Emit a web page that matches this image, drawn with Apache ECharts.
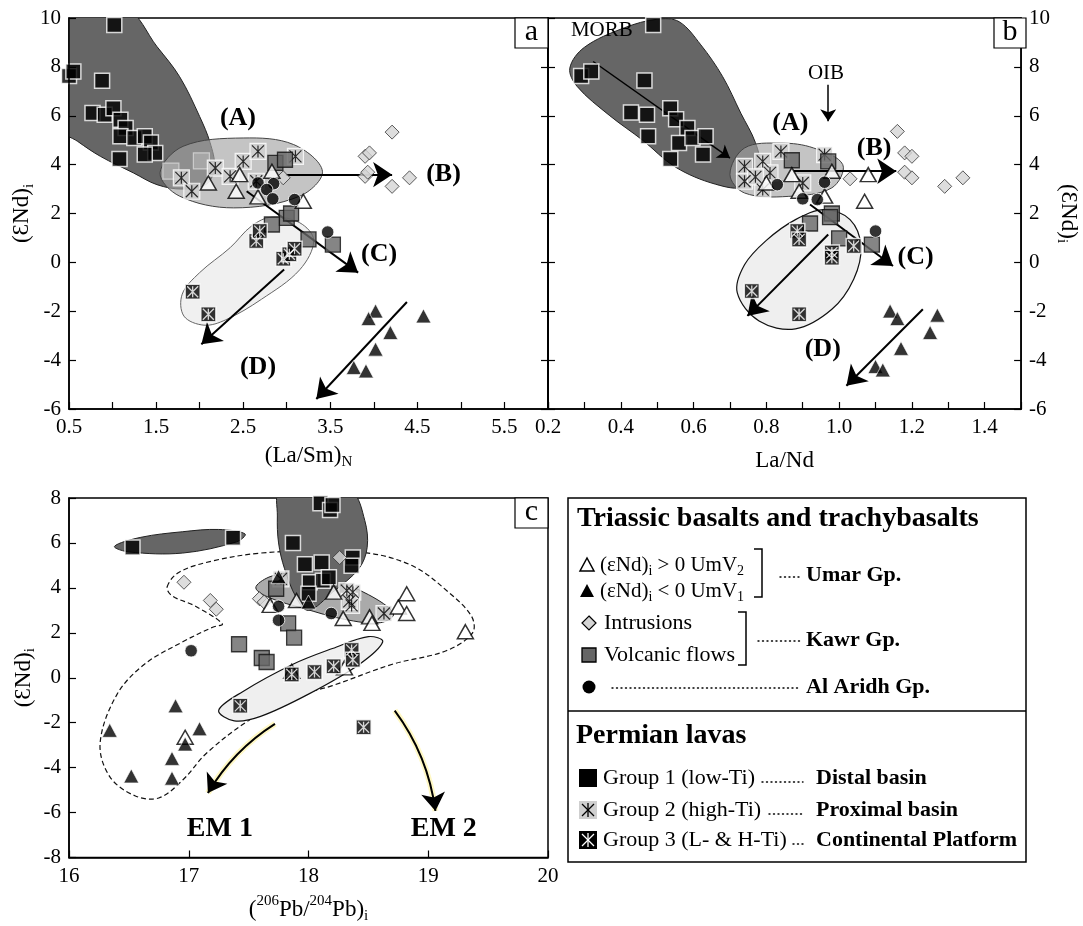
<!DOCTYPE html>
<html><head><meta charset="utf-8">
<script src="https://cdn.jsdelivr.net/npm/echarts@6/dist/echarts.min.js"></script>
<style>html,body{margin:0;padding:0;background:#fff}#c{width:1083px;height:926px}</style>
</head><body><div id="c"></div><script>
// ---------- DATA ----------
// Panel a : (La/Sm)N vs (eNd)i
const aG1 = [[1.02,9.71],[0.50,7.63],[0.55,7.81],[0.88,7.43],[0.77,6.11],[0.91,6.04],[1.01,6.31],[1.09,5.84],[1.15,5.5],[1.09,5.16],[1.25,5.09],[1.37,5.16],[1.44,4.91],[1.49,4.48],[1.37,4.41],[1.08,4.23]];
const aG2 = [[1.79,3.46],[1.91,2.91],[2.18,3.86],[2.35,3.52],[2.5,4.13],[2.67,4.54],[3.1,4.34],[2.65,3.32]];
const aG2faint = [[1.67,3.73],[2.02,4.15]];
const aG3 = [[2.65,0.87],[2.69,1.28],[2.96,0.15],[3.03,0.33],[3.09,0.56],[1.92,-1.2],[2.1,-2.12]];
const aTriOpen = [[2.1,3.25],[2.46,3.59],[2.42,2.91],[2.67,2.68],[2.83,3.73],[3.19,2.5]];
const aTriBlack = [[4.02,-1.99],[3.94,-2.3],[4.57,-2.19],[4.19,-2.87],[4.02,-3.55],[3.77,-4.3],[3.91,-4.44]];
const aCircle = [[2.67,3.25],[2.85,3.22],[2.77,2.98],[2.84,2.6],[3.09,2.57],[3.47,1.24]];
const aKawr = [[2.87,4.07],[2.98,4.2],[3.0,1.82],[3.05,2.0],[2.83,1.55],[3.25,0.94],[3.53,0.73]];
const aDiamond = [[2.96,3.46],[3.9,4.34],[3.95,4.48],[3.9,3.52],[3.93,3.69],[4.21,5.33],[4.21,3.11],[4.41,3.46]];
const aArrows = [[2.99,3.59,4.21,3.59],[2.54,2.91,3.82,-0.42],[2.97,-0.29,2.02,-3.35],[4.38,-1.62,3.34,-5.59]];
const aLabels = [['(A)',2.44,5.9],['(B)',4.8,3.59],['(C)',4.06,0.33],['(D)',2.67,-4.29]];
const aDark = [[0.4,10.4],[1.15,10.4],[1.51,8.83],[1.77,7.6],[2.0,5.97],[2.12,4.9],[2.17,3.9],[2.08,3.2],[1.8,3.0],[1.51,3.18],[1.24,3.66],[0.86,4.34],[0.6,4.95],[0.4,5.5]];
const aEllA = [[1.545,3.66],[1.81,4.75],[2.5,5.09],[3.08,4.82],[3.41,3.73],[3.15,2.71],[2.39,2.23],[1.77,2.71]];
const aEllG3 = [[2.83,1.85],[3.15,1.62],[3.31,0.9],[3.15,-0.3],[2.71,-1.51],[2.3,-2.35],[2.05,-2.57],[1.82,-2.2],[1.8,-1.3],[2.0,-0.42],[2.35,0.6],[2.6,1.5]];

// Panel b : La/Nd vs (eNd)i
const bG1 = [[0.489,9.71],[0.291,7.63],[0.319,7.81],[0.465,7.44],[0.428,6.13],[0.472,6.04],[0.536,6.31],[0.552,5.86],[0.583,5.5],[0.475,5.16],[0.56,4.88],[0.597,5.09],[0.633,5.16],[0.626,4.41],[0.536,4.23]];
const bG2 = [[0.74,3.93],[0.79,4.13],[0.84,4.54],[0.74,3.32],[0.81,3.66],[0.79,2.98],[0.9,3.25],[0.96,4.41],[0.77,3.5]];
const bG3 = [[0.885,1.28],[0.89,0.94],[0.98,0.4],[1.04,0.67],[0.98,0.19],[0.76,-1.17],[0.89,-2.12]];
const bTriOpen = [[0.8,3.25],[0.87,3.59],[0.89,2.91],[0.96,2.71],[0.98,3.73],[1.08,3.59],[1.07,2.5]];
const bTriBlack = [[1.14,-1.99],[1.16,-2.3],[1.27,-2.16],[1.25,-2.87],[1.17,-3.52],[1.10,-4.26],[1.12,-4.4]];
const bCircle = [[0.83,3.18],[0.96,3.28],[0.9,2.6],[0.94,2.57],[1.1,1.28]];
const bKawr = [[0.87,4.18],[0.97,4.13],[0.98,2.0],[0.975,1.85],[0.92,1.59],[1.0,0.98],[1.09,0.73]];
const bDiamond = [[1.03,3.42],[1.16,5.36],[1.18,4.48],[1.2,4.34],[1.18,3.69],[1.2,3.46],[1.29,3.11],[1.34,3.46]];
const bArrows = [[0.875,3.73,1.157,3.73],[0.92,2.37,1.148,-0.15],[0.97,1.14,0.748,-2.19],[1.23,-1.92,1.02,-5.05]];
const bThinArrows = [[0.324,8.22,0.70,4.27],[0.97,7.27,0.97,5.77]];
const bLabels = [['(A)',0.866,5.7],['(B)',1.096,4.68],['(C)',1.21,0.19],['(D)',0.955,-3.55]];
const bRefLabels = [['MORB',0.348,9.48],['OIB',0.964,7.74]];
const bDark = [[0.5,9.95],[0.56,9.85],[0.62,8.9],[0.68,7.6],[0.73,6.1],[0.77,4.9],[0.78,4.0],[0.74,3.1],[0.66,3.2],[0.55,3.9],[0.46,5.0],[0.37,6.0],[0.28,7.2],[0.26,7.95],[0.3,8.8],[0.41,9.6]];
const bEllA = [[0.70,3.6],[0.74,4.68],[0.84,4.88],[0.93,4.68],[1.01,4.0],[0.98,3.05],[0.86,2.7],[0.74,2.84]];
const bEllG3 = [[0.96,2.16],[1.03,1.75],[1.06,0.66],[1.04,-0.69],[0.98,-1.92],[0.88,-2.72],[0.78,-2.4],[0.72,-1.24],[0.74,-0.1],[0.8,0.9],[0.88,1.75]];

// Panel c : (206Pb/204Pb)i vs (eNd)i
const cG1 = [[16.53,5.8],[17.37,6.23],[18.1,7.77],[18.18,7.47],[18.2,7.69],[17.87,6.0],[17.97,5.05],[18.11,5.13],[18.37,5.35],[18.36,4.98],[18.01,4.25],[18.12,4.32],[18.17,4.47],[18.0,3.74]];
const cG2 = [[18.37,3.81],[18.36,3.22],[18.63,2.86],[17.77,4.4],[18.32,3.88],[18.34,3.4]];
const cG3 = [[17.43,-1.25],[17.86,0.15],[18.05,0.26],[18.21,0.51],[18.36,1.24],[18.37,0.8],[18.46,-2.2]];
const cTriOpen = [[17.9,3.44],[17.68,3.22],[18.21,3.81],[18.29,2.64],[18.51,2.71],[18.53,2.42],[18.75,3.15],[18.82,3.74],[18.82,2.86],[17.86,0.29],[18.3,0.44],[19.31,2.05],[16.97,-2.65]];
const cTriBlack = [[17.75,4.5],[18.0,3.37],[16.34,-2.34],[16.89,-1.25],[17.09,-2.27],[16.97,-2.95],[16.86,-3.59],[16.52,-4.37],[16.86,-4.47]];
const cCircle = [[17.75,3.18],[17.75,2.56],[18.19,2.86],[17.02,1.2]];
const cKawr = [[17.73,3.96],[17.83,2.42],[17.88,1.79],[17.42,1.49],[17.61,0.88],[17.65,0.7]];
const cDiamond = [[16.96,4.25],[17.18,3.44],[17.23,3.05],[17.59,3.52],[17.63,3.37],[18.26,5.35]];
const cEmArrows = [[17.72,-2.05,17.16,-5.13],[18.72,-1.46,19.06,-5.93]];
const cLabels = [['EM 1',17.26,-6.74],['EM 2',19.13,-6.74]];
const cSmall = [[16.38,5.85],[16.6,6.25],[16.95,6.5],[17.25,6.6],[17.47,6.4],[17.4,6.05],[16.95,5.55],[16.5,5.6]];
const cDarkBlob = [[17.76,8.4],[18.05,8.5],[18.36,8.3],[18.47,7.0],[18.49,5.8],[18.42,4.85],[18.2,3.8],[18.0,3.0],[17.9,3.55],[17.8,4.85],[17.75,6.0],[17.74,7.2]];
const cGrey = [[17.56,4.0],[17.67,4.48],[17.85,4.65],[18.15,4.45],[18.5,3.7],[18.71,2.85],[18.6,2.45],[18.3,2.6],[17.95,3.1],[17.68,3.55]];
const cLight = [[17.25,-1.45],[17.45,-0.62],[17.87,0.6],[18.2,1.3],[18.5,1.83],[18.62,1.6],[18.42,0.58],[18.0,-0.73],[17.6,-1.72],[17.38,-1.92]];
const cDashed = [[16.82,4.05],[16.92,4.7],[17.2,5.2],[17.6,5.55],[18.0,5.62],[18.5,5.55],[18.88,4.95],[19.16,3.85],[19.36,2.75],[19.37,2.0],[19.15,1.2],[18.7,0.6],[18.2,-0.35],[17.85,-0.9],[17.5,-1.9],[17.15,-3.35],[16.95,-4.55],[16.75,-5.35],[16.55,-5.25],[16.34,-4.4],[16.26,-2.9],[16.4,-0.75],[16.63,0.6],[16.95,1.6],[17.2,2.25],[17.28,2.4],[17.05,3.2],[16.86,3.65]];

// ---------- STYLE ----------
const FONT = "'Liberation Serif','Times New Roman',serif";
const STAR = 'path://M0,0L10,10M10,0L0,10M5,0L5,10';
const S = {
  g1:   {symbol:'rect', symbolSize:15, itemStyle:{color:'#000', borderColor:'#fff', borderWidth:1.5}},
  g2:   {symbol:'rect', symbolSize:16, itemStyle:{color:'#d2d2d2', borderColor:'#fff', borderWidth:1.2}},
  g2f:  {symbol:'rect', symbolSize:16, itemStyle:{color:'#adadad', borderColor:'#d8d8d8', borderWidth:1.2}},
  star: {symbol:STAR, symbolSize:12, itemStyle:{color:'rgba(0,0,0,0)', borderColor:'#000', borderWidth:1.2}},
  g3:   {symbol:'rect', symbolSize:15, itemStyle:{color:'#000', borderColor:'#fff', borderWidth:1.5}},
  wstar:{symbol:STAR, symbolSize:11, itemStyle:{color:'rgba(0,0,0,0)', borderColor:'#fff', borderWidth:1.3}},
  tri:  {symbol:'triangle', symbolSize:[16,14], itemStyle:{color:'#fff', borderColor:'#000', borderWidth:1.5}},
  triB: {symbol:'triangle', symbolSize:[15,14], itemStyle:{color:'#000', borderColor:'#fff', borderWidth:0.8}},
  cir:  {symbol:'circle', symbolSize:12.5, itemStyle:{color:'#000', borderColor:'#fff', borderWidth:1}},
  kaw:  {symbol:'rect', symbolSize:15, itemStyle:{color:'#666', borderColor:'#111', borderWidth:1.3}},
  dia:  {symbol:'diamond', symbolSize:14, itemStyle:{color:'#d4d4d4', borderColor:'#333', borderWidth:1}}
};
const ST_DARK = {fill:'#666', stroke:'#222', lineWidth:1};
const ST_ELLA = {fill:'rgba(165,165,165,0.65)', stroke:'#444', lineWidth:1};
const ST_G3A = {fill:'#f0f0f0', stroke:'#666', lineWidth:1};
const ST_G3 = {fill:'#efefef', stroke:'#111', lineWidth:1.2};
const ST_GREY = {fill:'#aaa', stroke:'#222', lineWidth:1};
const ST_DASH = {fill:'none', stroke:'#111', lineWidth:1.2, lineDash:[5,3]};

function pts(data, xi, yi, st, z) {
  return Object.assign({type:'scatter', xAxisIndex:xi, yAxisIndex:yi, data:data, silent:true, z:z||3}, JSON.parse(JSON.stringify(st)));
}
function env(list, styles, xi, yi) {
  return {type:'custom', xAxisIndex:xi, yAxisIndex:yi, silent:true, z:1,
    data: list.map(e => [e[0][0], e[0][1]]),
    renderItem: function (params, api) {
      const i = params.dataIndex;
      const p = list[i].map(q => api.coord(q));
      const cs = params.coordSys;
      return {type:'group', children:[{type:'polygon', shape:{points:p, smooth:0.35}, style:Object.assign({}, styles[i])}],
        clipPath:{type:'rect', shape:{x:cs.x, y:cs.y, width:cs.width, height:cs.height}}};
    }};
}
function arrows(list, xi, yi, w, size, curves) {
  return {type:'lines', coordinateSystem:'cartesian2d', xAxisIndex:xi, yAxisIndex:yi, silent:true, z:2,
    symbol:['none','arrow'], symbolSize:size, lineStyle:{color:'#000', width:w, opacity:1},
    data: list.map((a,i) => {
      const d = {coords:[[a[0],a[1]],[a[2],a[3]]]};
      if (curves) d.lineStyle = {curveness: curves[i]};
      return d;
    })};
}
function texts(list, xi, yi, size, weight) {
  return {type:'custom', xAxisIndex:xi, yAxisIndex:yi, silent:true, z:6,
    data: list.map(t => [t[1], t[2]]),
    renderItem: function (params, api) {
      const p = api.coord([api.value(0), api.value(1)]);
      return {type:'text', x:p[0], y:p[1], style:{text:list[params.dataIndex][0], fill:'#000',
        fontFamily:FONT, fontSize:size, fontWeight:weight, align:'center', verticalAlign:'middle'}};
    }};
}
function markers(set, xi, yi) {
  return [
    pts(set.g1, xi, yi, S.g1),
    set.g2f ? pts(set.g2f, xi, yi, S.g2f) : null,
    pts(set.g2, xi, yi, S.g2), pts(set.g2, xi, yi, S.star),
    pts(set.dia, xi, yi, S.dia), pts(set.kaw, xi, yi, S.kaw),
    pts(set.tri, xi, yi, S.tri), pts(set.cir, xi, yi, S.cir),
    pts(set.g3, xi, yi, S.g3), pts(set.g3, xi, yi, S.wstar),
    pts(set.triB, xi, yi, S.triB)
  ].filter(Boolean);
}

const rich = {
  m:{fontFamily:FONT, fontSize:23, lineHeight:28, color:'#000'},
  s:{fontFamily:FONT, fontSize:15, lineHeight:15, padding:[13,0,0,0], color:'#000'},
  p:{fontFamily:FONT, fontSize:15, lineHeight:15, padding:[0,0,16,0], color:'#000'}
};
const nameStyle = {fontFamily:FONT, fontSize:23, color:'#000', rich:rich};
const lineSt = {show:true, onZero:false, lineStyle:{color:'#000', width:1.5}};
const lab = {color:'#000', fontFamily:FONT, fontSize:21, margin:8};
function ax(o) {
  return Object.assign({type:'value', z:10, axisLine:lineSt, splitLine:{show:false},
    axisTick:{show:true, inside:true, length:7, lineStyle:{color:'#000', width:1.2}},
    axisLabel:Object.assign({}, lab)}, o);
}

const option = {
  animation:false,
  backgroundColor:'#fff',
  grid:[
    {left:69, top:18, width:479, height:391, show:true, borderColor:'#000', borderWidth:1.5},
    {left:548, top:18, width:478, height:391, show:true, borderColor:'#000', borderWidth:1.5},
    {left:69, top:498, width:479, height:364, show:true, borderColor:'#000', borderWidth:1.5}
  ],
  xAxis:[
    ax({gridIndex:0, min:0.5, max:6, interval:0.5,
      axisLabel:Object.assign({}, lab, {formatter: v => (Math.round(v*2) % 2 === 1) ? String(v) : ''}),
      name:'{m|(La/Sm)}{s|N}', nameLocation:'middle', nameGap:33, nameTextStyle:nameStyle}),
    ax({gridIndex:1, min:0.2, max:1.5, interval:0.1,
      axisLabel:Object.assign({}, lab, {formatter: v => { const k = Math.round(v*10); return (k % 2 === 0 && k < 15) ? (k/10).toFixed(1) : ''; }}),
      name:'{m|La/Nd}', nameLocation:'middle', nameGap:38, nameTextStyle:nameStyle}),
    ax({gridIndex:2, min:16, max:20, interval:1,
      name:'{m|(}{p|206}{m|Pb/}{p|204}{m|Pb)}{s|i}', nameLocation:'middle', nameGap:38, nameTextStyle:nameStyle})
  ],
  yAxis:[
    ax({gridIndex:0, min:-6, max:10, interval:2, position:'left',
      name:'{m|(ƐNd)}{s|i}', nameLocation:'middle', nameGap:32, nameRotate:90, nameTextStyle:nameStyle}),
    ax({gridIndex:0, min:-6, max:10, interval:2, position:'right', axisLabel:{show:false}}),
    ax({gridIndex:1, min:-6, max:10, interval:2, position:'right',
      name:'{m|(ƐNd)}{s|i}', nameLocation:'middle', nameGap:30, nameRotate:-90, nameTextStyle:nameStyle}),
    ax({gridIndex:1, min:-6, max:10, interval:2, position:'left', axisLabel:{show:false}}),
    ax({gridIndex:2, min:-8, max:8, interval:2, position:'left',
      name:'{m|(ƐNd)}{s|i}', nameLocation:'middle', nameGap:31, nameRotate:90, nameTextStyle:nameStyle})
  ],
  series:[].concat(
    // panel a
    [env([aDark, aEllA, aEllG3], [ST_DARK, ST_ELLA, ST_G3A], 0, 0),
     arrows(aArrows, 0, 0, 2, 19)],
    markers({g1:aG1, g2f:aG2faint, g2:aG2, dia:aDiamond, kaw:aKawr, tri:aTriOpen, cir:aCircle, g3:aG3, triB:aTriBlack}, 0, 0),
    [texts(aLabels, 0, 0, 26, 'bold')],
    // panel b
    [env([bDark, bEllA, bEllG3], [ST_DARK, ST_ELLA, ST_G3], 1, 2),
     arrows(bArrows, 1, 2, 2, 19),
     arrows(bThinArrows, 1, 2, 1.5, 12)],
    markers({g1:bG1, g2:bG2, dia:bDiamond, kaw:bKawr, tri:bTriOpen, cir:bCircle, g3:bG3, triB:bTriBlack}, 1, 2),
    [texts(bLabels, 1, 2, 26, 'bold'), texts(bRefLabels, 1, 2, 21, 'normal')],
    // panel c
    [env([cDashed, cLight, cGrey, cDarkBlob, cSmall], [ST_DASH, ST_G3, ST_GREY, ST_DARK, ST_DARK], 2, 4)],
    markers({g1:cG1, g2:cG2, dia:cDiamond, kaw:cKawr, tri:cTriOpen, cir:cCircle, g3:cG3, triB:cTriBlack}, 2, 4),
    [Object.assign(arrows(cEmArrows, 2, 4, 6, 0, [-0.12, 0.13]), {symbol:['none','none'], lineStyle:{color:'#fff8c4', width:6, opacity:1}}),
     arrows(cEmArrows, 2, 4, 2, 18, [-0.12, 0.13]),
     texts(cLabels, 2, 4, 28, 'bold')]
  ),
  graphic: buildGraphic()
};

function buildGraphic() {
  const g = [];
  const T = (x, y, text, size, bold) => g.push({type:'text', x:x, y:y, z:20,
    style:{text:text, fill:'#000', fontFamily:FONT, fontSize:size, fontWeight:bold ? 'bold' : 'normal', align:'left', verticalAlign:'middle',
      rich:{s:{fontFamily:FONT, fontSize:14, fill:'#000', padding:[12,0,0,0]}}}});
  const L = (x1, y1, x2, y2, w, dash) => g.push({type:'line', z:20, shape:{x1:x1, y1:y1, x2:x2, y2:y2},
    style:{stroke:'#000', lineWidth:w || 1.5, lineDash:dash || null, lineCap: dash ? 'round' : 'butt'}});
  const box = (x, y, w, h, letter) => {
    g.push({type:'rect', z:20, shape:{x:x, y:y, width:w, height:h}, style:{fill:'#fff', stroke:'#000', lineWidth:1.2}});
    g.push({type:'text', z:21, x:x + w/2, y:y + h/2 - 1, style:{text:letter, fill:'#000', fontFamily:FONT, fontSize:30, align:'center', verticalAlign:'middle'}});
  };
  box(515, 18, 33, 30, 'a'); box(994, 18, 32, 30, 'b'); box(515, 498, 33, 30, 'c');
  // legend frame
  g.push({type:'rect', z:19, shape:{x:568, y:498, width:458, height:364}, style:{fill:'#fff', stroke:'#000', lineWidth:1.5}});
  L(568, 711, 1026, 711, 1.5);
  T(577, 519, 'Triassic basalts and trachybasalts', 28, true);
  // symbols
  g.push({type:'polygon', z:20, shape:{points:[[580,571],[594,571],[587,558]]}, style:{fill:'#fff', stroke:'#000', lineWidth:1.5}});
  g.push({type:'polygon', z:20, shape:{points:[[580,597],[594,597],[587,584]]}, style:{fill:'#000'}});
  g.push({type:'polygon', z:20, shape:{points:[[589,616],[596,623],[589,630],[582,623]]}, style:{fill:'#d4d4d4', stroke:'#000', lineWidth:1.2}});
  g.push({type:'rect', z:20, shape:{x:582, y:648, width:14, height:14}, style:{fill:'#666', stroke:'#000', lineWidth:1.3}});
  g.push({type:'circle', z:20, shape:{cx:589, cy:687, r:6.5}, style:{fill:'#000'}});
  T(600, 565, '(εNd){s|i} > 0 UmV{s|2}', 21, false);
  T(600, 591, '(εNd){s|i} < 0 UmV{s|1}', 21, false);
  T(604, 623, 'Intrusions', 22, false);
  T(604, 655, 'Volcanic flows', 22, false);
  // brackets
  g.push({type:'polyline', z:20, shape:{points:[[754,549],[762,549],[762,597],[754,597]]}, style:{stroke:'#000', lineWidth:1.5, fill:null}});
  g.push({type:'polyline', z:20, shape:{points:[[738,612],[746,612],[746,665],[738,665]]}, style:{stroke:'#000', lineWidth:1.5, fill:null}});
  L(780, 577, 801, 577, 1.4, [1, 3.5]);
  L(758, 641, 801, 641, 1.4, [1, 3.5]);
  L(612, 688, 801, 688, 1.4, [1, 3.5]);
  T(806, 575, 'Umar Gp.', 22, true);
  T(806, 640, 'Kawr Gp.', 22, true);
  T(806, 687, 'Al Aridh Gp.', 22, true);
  // Permian
  T(576, 736, 'Permian lavas', 28, true);
  g.push({type:'rect', z:20, shape:{x:579, y:769, width:18, height:18}, style:{fill:'#000'}});
  g.push({type:'rect', z:20, shape:{x:579, y:801, width:18, height:18}, style:{fill:'#cfcfcf'}});
  g.push({type:'rect', z:20, shape:{x:579, y:831, width:18, height:18}, style:{fill:'#000'}});
  [[801, '#000'], [831, '#fff']].forEach(r => {
    const y = r[0], c = r[1];
    [[582,y+3,594,y+15],[594,y+3,582,y+15],[588,y+2,588,y+16]].forEach(s =>
      g.push({type:'line', z:21, shape:{x1:s[0], y1:s[1], x2:s[2], y2:s[3]}, style:{stroke:c, lineWidth:1.3}}));
  });
  T(603, 778, 'Group 1 (low-Ti)', 22, false);
  T(603, 810, 'Group 2 (high-Ti)', 22, false);
  T(603, 840, 'Group 3 (L- & H-Ti)', 22, false);
  L(762, 782, 803, 782, 1.4, [1, 3.5]);
  L(769, 814, 803, 814, 1.4, [1, 3.5]);
  L(793, 844, 803, 844, 1.4, [1, 3.5]);
  T(816, 778, 'Distal basin', 22, true);
  T(816, 810, 'Proximal basin', 22, true);
  T(816, 840, 'Continental Platform', 22, true);
  return g;
}

const chart = echarts.init(document.getElementById('c'), null, {renderer:'canvas'});
chart.setOption(option);
</script></body></html>
